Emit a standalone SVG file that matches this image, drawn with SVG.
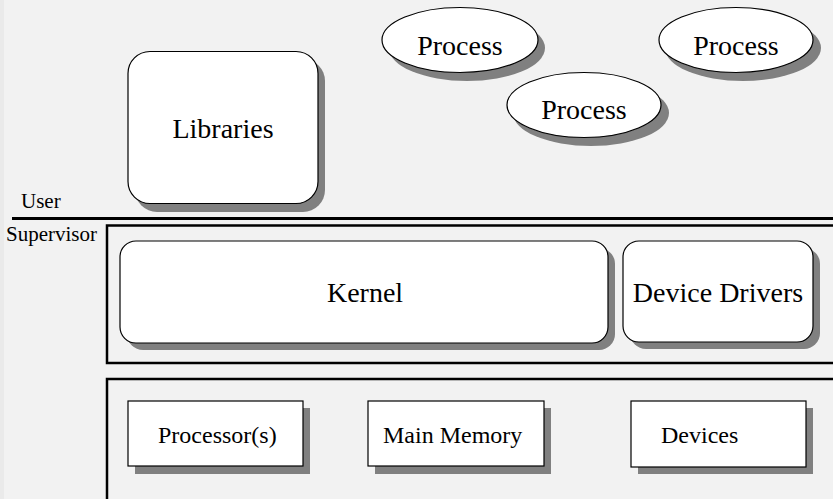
<svg xmlns="http://www.w3.org/2000/svg" width="833" height="499" viewBox="0 0 833 499">
  <style>
    text { font-family: 'Liberation Serif', 'DejaVu Serif', 'Noto Serif', 'Times New Roman', serif; fill: #000; }
    .shape { fill: #fff; stroke: #000; stroke-width: 1.2; }
    .shadow { fill: #808080; stroke: none; }
    .frame { fill: none; stroke: #000; stroke-width: 2.5; }
    .big { font-size: 28px; }
    .small { font-size: 24px; }
    .mode { font-size: 21px; }
  </style>

  <!-- background -->
  <rect x="0" y="0" width="833" height="499" fill="#f2f2f2"/>
  <rect x="0" y="0" width="4" height="499" fill="#eaeaea"/>

  <!-- privilege boundaries -->
  <g id="boundaries">
    <line x1="12" y1="218.5" x2="833" y2="218.5" stroke="#000" stroke-width="3"/>
    <rect class="frame" x="107" y="225.5" width="740" height="137.5"/>
    <rect class="frame" x="107" y="379" width="740" height="140"/>
    <text class="mode" x="21" y="208">User</text>
    <text class="mode" x="6" y="241">Supervisor</text>
  </g>

  <!-- user space -->
  <g id="libraries">
    <rect class="shadow" x="135" y="59" width="190" height="153" rx="22"/>
    <rect class="shape" x="128" y="51.5" width="190" height="152" rx="22"/>
    <text class="big" x="223" y="138" text-anchor="middle">Libraries</text>
  </g>

  <g id="process1">
    <ellipse class="shadow" cx="467" cy="48" rx="78" ry="33"/>
    <ellipse class="shape" cx="460" cy="40" rx="78" ry="32.5"/>
    <text class="big" x="460" y="55" text-anchor="middle">Process</text>
  </g>

  <g id="process2">
    <ellipse class="shadow" cx="743" cy="48" rx="78" ry="33"/>
    <ellipse class="shape" cx="736" cy="40" rx="77" ry="32.5"/>
    <text class="big" x="736" y="55" text-anchor="middle">Process</text>
  </g>

  <g id="process3">
    <ellipse class="shadow" cx="591" cy="113" rx="78" ry="33"/>
    <ellipse class="shape" cx="584" cy="105" rx="77" ry="32.5"/>
    <text class="big" x="584" y="119" text-anchor="middle">Process</text>
  </g>

  <!-- supervisor space -->
  <g id="kernel">
    <rect class="shadow" x="127" y="248" width="488" height="102" rx="16"/>
    <rect class="shape" x="120" y="241" width="488" height="102" rx="16"/>
    <text class="big" x="365" y="302" text-anchor="middle">Kernel</text>
  </g>

  <g id="device-drivers">
    <rect class="shadow" x="630" y="248" width="190" height="101" rx="16"/>
    <rect class="shape" x="623" y="241" width="190" height="101" rx="16"/>
    <text class="big" x="718" y="302" text-anchor="middle">Device Drivers</text>
  </g>

  <!-- hardware -->
  <g id="processors">
    <rect class="shadow" x="135" y="408" width="175" height="66"/>
    <rect class="shape" x="128" y="401" width="175" height="65"/>
    <text class="small" x="158" y="443">Processor(s)</text>
  </g>

  <g id="main-memory">
    <rect class="shadow" x="375" y="408" width="176" height="66"/>
    <rect class="shape" x="368" y="401" width="176" height="65"/>
    <text class="small" x="383" y="443">Main Memory</text>
  </g>

  <g id="devices">
    <rect class="shadow" x="638" y="408" width="175" height="66"/>
    <rect class="shape" x="631" y="401" width="175" height="66"/>
    <text class="small" x="661" y="443">Devices</text>
  </g>

  <g id="connectors"></g>
</svg>
